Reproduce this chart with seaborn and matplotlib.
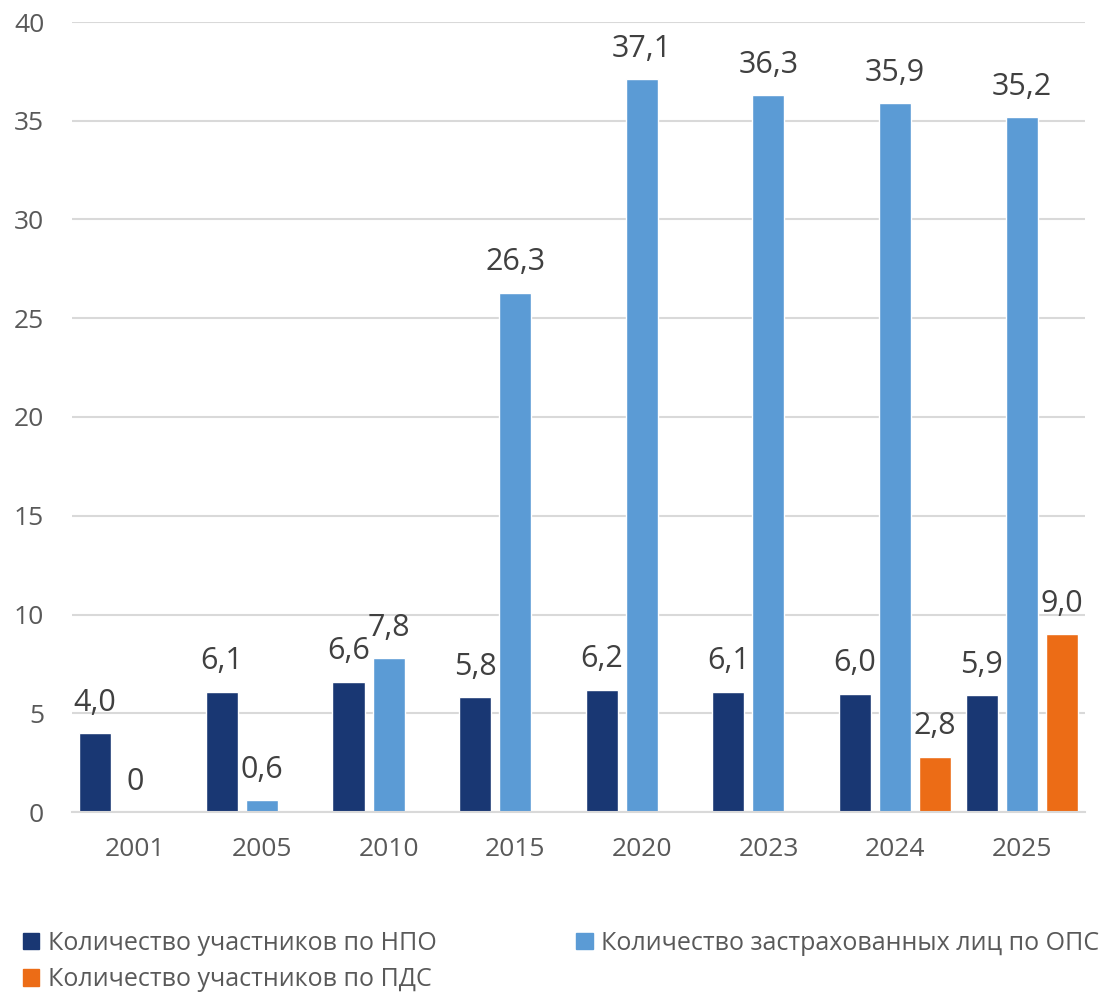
import matplotlib
matplotlib.use("Agg")
import matplotlib.pyplot as plt
import seaborn as sns
import pandas as pd
import numpy as np

years = ["2001", "2005", "2010", "2015", "2020", "2023", "2024", "2025"]
npo = [4.0, 6.1, 6.6, 5.8, 6.2, 6.1, 6.0, 5.9]
ops = [0.0, 0.6, 7.8, 26.3, 37.1, 36.3, 35.9, 35.2]
pds = [np.nan, np.nan, np.nan, np.nan, np.nan, np.nan, 2.8, 9.0]
series_names = ["Количество участников по НПО",
                "Количество застрахованных лиц по ОПС",
                "Количество участников по ПДС"]
colors = ["#193773", "#5b9bd5", "#ec6c16"]

rows = []
for name, vals in zip(series_names, [npo, ops, pds]):
    for y, v in zip(years, vals):
        rows.append({"year": y, "series": name, "value": v})
df = pd.DataFrame(rows)

sns.set_theme(style="white")
plt.rcParams['font.family'] = ['Open Sans', 'DejaVu Sans']

fig = plt.figure(figsize=(11.07, 9.96), dpi=100)
ax = fig.add_axes([72/1107, 184/996, (1085-72)/1107, (812-22)/996])

sns.barplot(data=df, x="year", y="value", hue="series", order=years,
            hue_order=series_names, palette=colors, width=0.95, gap=0.2,
            saturation=1, ax=ax, legend=False)

def fmt(v):
    if v == 0:
        return "0"
    return f"{v:.1f}".replace(".", ",")

for cont, vals in zip(ax.containers, [npo, ops, pds]):
    labels = []
    for bar in cont:
        h = bar.get_height()
        labels.append("" if (h is None or np.isnan(h)) else fmt(h))
    ax.bar_label(cont, labels=labels, padding=11, fontsize=22, color="#404040")

ax.set_ylim(0, 40)
ax.set_xlim(-0.5, 7.5)
ax.set_yticks(range(0, 41, 5))
ax.yaxis.grid(True, color="#d9d9d9", linewidth=1.5)
ax.set_axisbelow(True)
for s in ["top", "right", "left"]:
    ax.spines[s].set_visible(False)
ax.spines["bottom"].set_color("#d9d9d9")
ax.spines["bottom"].set_linewidth(1.5)
ax.set_xlabel("")
ax.set_ylabel("")
ax.tick_params(axis="y", length=0, pad=20, labelsize=19, labelcolor="#595959")
ax.tick_params(axis="x", length=0, pad=18, labelsize=19, labelcolor="#595959")

from matplotlib.patches import Patch
handles = [Patch(color=colors[0]), Patch(color=colors[2]), Patch(color=colors[1])]
labs = [series_names[0], series_names[2], series_names[1]]
fig.legend(handles, labs, ncol=2, loc="upper left", bbox_to_anchor=(0.0, 0.088),
           frameon=False, fontsize=18, labelcolor="#595959",
           handlelength=0.65, handleheight=0.65, handletextpad=0.35,
           columnspacing=5.6, labelspacing=0.45)

fig.savefig("out.png", dpi=100)
